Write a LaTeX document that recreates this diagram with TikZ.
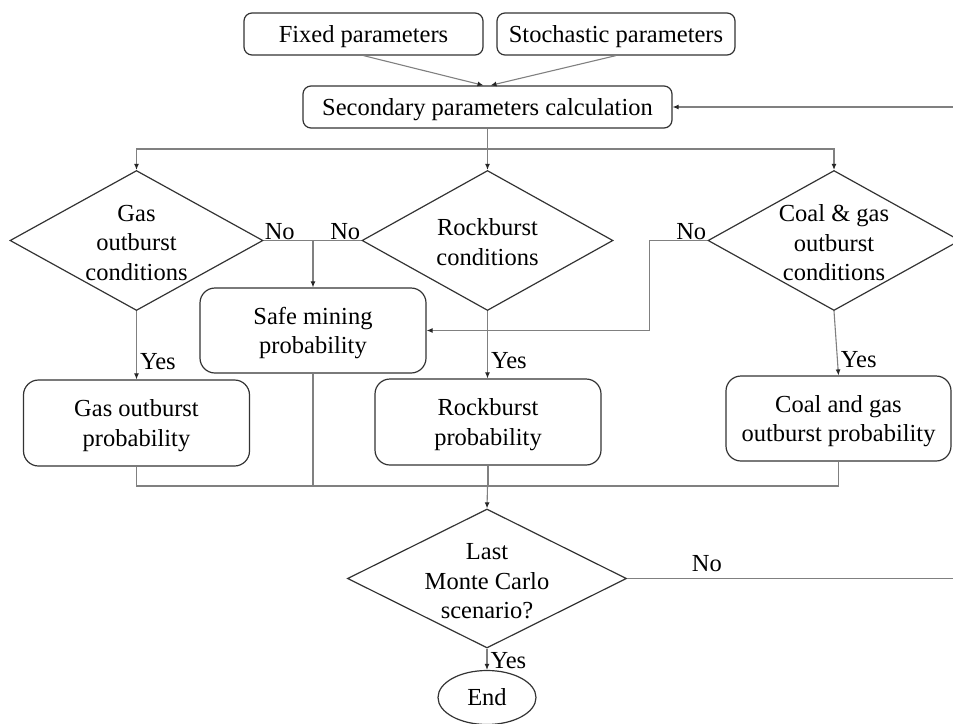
\documentclass[tikz,border=0pt]{standalone}
\usepackage{fontspec}
\setmainfont{Liberation Serif}
\usetikzlibrary{shapes.geometric,arrows.meta}
\begin{document}
\begin{tikzpicture}[x=1pt,y=-1pt,
  txt/.style={font=\fontsize{24.5}{29.5}\selectfont, align=center, text=black},
  box/.style={draw=black!80, line width=1.2pt, rounded corners=8pt, inner sep=0pt, text depth=0pt, txt},
  bigbox/.style={box, rounded corners=15pt},
  dec/.style={draw=black!80, line width=1.2pt, diamond, inner sep=0pt},
  ln/.style={draw=black!50, line width=1.1pt},
  arr/.style={ln, -{Latex[length=6pt,width=5pt,color=black!85]}},
  lbl/.style={txt, inner sep=1pt}
]
\useasboundingbox (0,0) rectangle (953,723);
\clip (0,0) rectangle (953,723);

% top boxes
\node[box, minimum width=239pt, minimum height=42pt] (fixed) at (363.5,34) {Fixed parameters};
\node[box, minimum width=238pt, minimum height=42pt] (stoch) at (616,34) {Stochastic parameters};
\node[box, minimum width=369pt, minimum height=42pt] (sec) at (487.5,107) {Secondary parameters calculation};

% decisions
\node[dec, minimum width=253pt, minimum height=140pt] (gasD) at (136.5,240.5) {};
\node[txt] (gasT) at (136.5,243) {Gas\\outburst\\conditions};
\node[dec, minimum width=251pt, minimum height=140pt] (rockD) at (487.5,240.5) {};
\node[txt] (rockT) at (487.5,242) {Rockburst\\conditions};
\node[dec, minimum width=252pt, minimum height=140pt] (coalD) at (834,240.5) {};
\node[txt] (coalT) at (834,243) {Coal \& gas\\outburst\\conditions};
\node[dec, minimum width=279pt, minimum height=139pt] (lastD) at (487,578.5) {};
\node[txt] (lastT) at (487,581.5) {Last\\Monte Carlo\\scenario?};

% result boxes
\node[bigbox, minimum width=226pt, minimum height=85pt] (safe) at (313,330.5) {Safe mining\\probability};
\node[bigbox, minimum width=226pt, minimum height=86pt] (gasP) at (136.5,423) {Gas outburst\\probability};
\node[bigbox, minimum width=226pt, minimum height=86pt] (rockP) at (488,422) {Rockburst\\probability};
\node[bigbox, minimum width=225pt, minimum height=85pt] (coalP) at (838.5,418.5) {Coal and gas\\outburst probability};

\node[draw=black!80, line width=1.2pt, ellipse, inner sep=0pt, minimum width=98pt, minimum height=54pt, txt] (end) at (487,697.5) {End};

% connectors
\draw[arr] (fixed.south) -- ([xshift=-4pt]sec.north);
\draw[arr] (stoch.south) -- ([xshift=3pt]sec.north);

\coordinate (split) at (487.5,149);
\draw[ln] (sec.south) -- (split);
\draw[arr] (split) -| (gasD.north);
\draw[arr] (split) -| (coalD.north);
\draw[arr] (split) -- (rockD.north);

\draw[ln] (gasD.east) -- (rockD.west);
\coordinate (nj) at (313,240.5);
\draw[arr] (nj) -- (safe.north);
\node[lbl, anchor=south west] (no1) at (gasD.east) {No};
\node[lbl, anchor=south east] (no2) at (rockD.west) {No};
\draw[arr] (coalD.west) -- ++(-58,0) |- (safe.east);
\node[lbl, anchor=south east] (no3) at (coalD.west) {No};

\draw[arr] (gasD.south) -- (gasP.north) node[lbl, pos=0.74, right=2pt] (yes1) {Yes};
\draw[arr] (rockD.south) -- (rockD.south |- rockP.north) node[lbl, pos=0.74, right=2pt] (yes2) {Yes};
\draw[arr] (coalD.south) -- (coalP.north) node[lbl, pos=0.76, right=2pt] (yes3) {Yes};

\coordinate (mg) at (487.5,486);
\draw[ln] (gasP.south) |- (mg);
\draw[ln] (coalP.south) |- (mg);
\draw[ln] (safe.south) |- (mg);
\draw[ln] (rockP.south) -- (rockP.south |- mg);
\draw[arr] (mg) -- (lastD.north);

\draw[arr] (lastD.south) -- (end.north) node[lbl, pos=0.55, right=2pt] (yes4) {Yes};

\coordinate (loopB) at (962,578.5);
\draw[ln] (lastD.east) -- (loopB) node[lbl, pos=0.238, above=5pt] (no4) {No};
\draw[arr] (loopB) |- (sec.east);
\end{tikzpicture}
\end{document}
